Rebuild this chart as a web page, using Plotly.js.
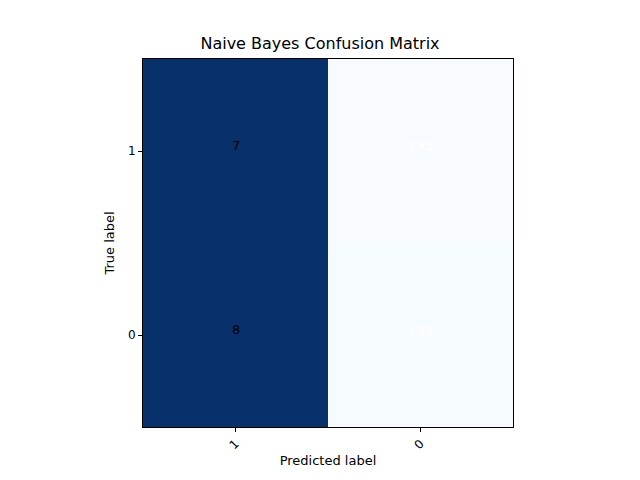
<!DOCTYPE html>
<html>
<head>
<meta charset="utf-8">
<script src="https://cdn.plot.ly/plotly-3.0.1.min.js"></script>
<style>html,body{margin:0;padding:0;background:#fff}</style>
</head>
<body>
<div id="chart" style="width:640px;height:480px"></div>
<script>
  // confusion matrix, rows = true label, columns = predicted label
  var predictedLabels = ["1", "0"];
  var trueLabels = ["0", "1"];
  var rowTrue0 = [292, 8];
  var rowTrue1 = [293, 7];

  var z = [rowTrue0, rowTrue1];
  var flat = rowTrue0.concat(rowTrue1);
  var zmax = Math.max.apply(null, flat);
  var zmin = Math.min.apply(null, flat);
  var thresh = zmax / 2;

  var blues = [
    [0, "#f7fbff"], [0.125, "#deebf7"], [0.25, "#c6dbef"], [0.375, "#9ecae1"],
    [0.5, "#6baed6"], [0.625, "#4292c6"], [0.75, "#2171b5"], [0.875, "#08519c"],
    [1, "#08306b"]
  ];

  var annotations = [];
  z.forEach(function (row, i) {
    row.forEach(function (v, j) {
      annotations.push({
        x: predictedLabels[j], y: trueLabels[i], text: String(v),
        showarrow: false, yshift: 6,
        font: { family: "DejaVu Sans", size: 13, color: v > thresh ? "#ffffff" : "#000000" }
      });
    });
  });

  var axisStyle = {
    type: "category", showline: true, mirror: true, linecolor: "#000", linewidth: 1,
    ticks: "outside", ticklen: 4, tickcolor: "#000", showgrid: false, zeroline: false,
    tickfont: { family: "DejaVu Sans", size: 12, color: "#000" }
  };

  Plotly.newPlot("chart", [{
    type: "heatmap", x: predictedLabels, y: trueLabels, z: z,
    zmin: zmin, zmax: zmax, colorscale: blues, showscale: false, hoverinfo: "none"
  }], {
    width: 640, height: 480,
    margin: { l: 143, r: 127, t: 59, b: 53 },
    paper_bgcolor: "#fff", plot_bgcolor: "#fff",
    title: { text: "Naive Bayes Confusion Matrix", x: 0.5, xanchor: "center", y: 0.91, yanchor: "middle",
             font: { family: "DejaVu Sans", size: 16, color: "#000" } },
    xaxis: Object.assign({}, axisStyle, { tickangle: -45,
      title: { text: "Predicted label", standoff: 4, font: { family: "DejaVu Sans", size: 13, color: "#000" } } }),
    yaxis: Object.assign({}, axisStyle, {
      title: { text: "True label", standoff: 10, font: { family: "DejaVu Sans", size: 13, color: "#000" } } }),
    annotations: annotations
  }, { displayModeBar: false, staticPlot: true });
</script>
</body>
</html>
